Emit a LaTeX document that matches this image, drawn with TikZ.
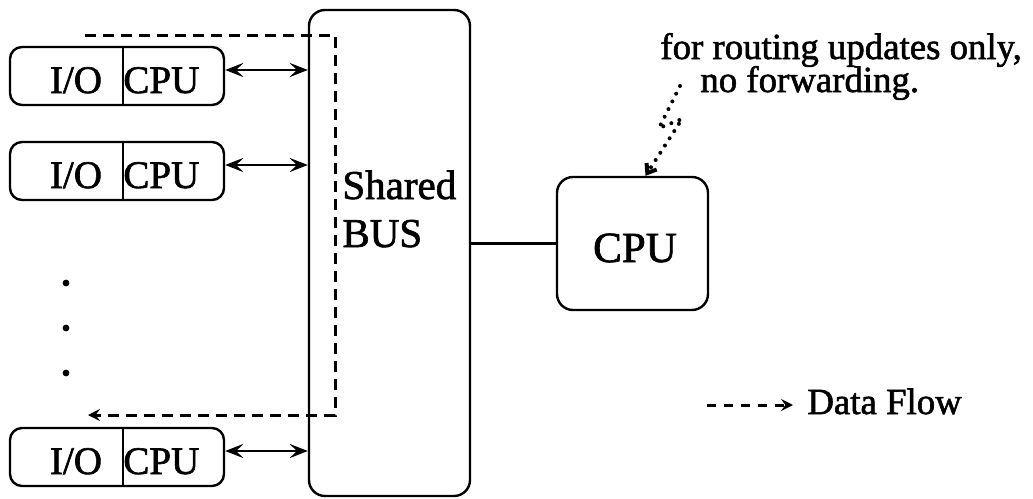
\documentclass[tikz,border=0pt]{standalone}
\usepackage{fontspec}
\setmainfont{Liberation Serif}
\newfontfamily\inkfont{Liberation Serif}[FakeBold=1.6]
\usetikzlibrary{arrows.meta,calc}

\tikzset{
  boxline/.style={line width=1.2pt},
  iobox/.style={boxline, draw, rounded corners=6pt, minimum width=107pt, minimum height=29pt, inner sep=0pt},
  busbox/.style={boxline, draw, rounded corners=8pt, minimum width=80.5pt, minimum height=243pt, inner sep=0pt},
  cpubox/.style={boxline, draw, rounded corners=8pt, minimum width=75.5pt, minimum height=66.5pt, inner sep=0pt},
  bigtext/.style={font=\inkfont\fontsize{19.5}{24}\selectfont, inner sep=0pt},
  bustext/.style={font=\inkfont\fontsize{20.5}{24}\selectfont, inner sep=0pt},
  cputext/.style={font=\inkfont\fontsize{21.5}{24}\selectfont, inner sep=0pt},
  notetext/.style={font=\inkfont\fontsize{18.4}{22}\selectfont, inner sep=0pt},
  link/.style={line width=1.3pt, {Stealth[length=9pt,width=7pt,inset=3.5pt]}-{Stealth[length=9pt,width=7pt,inset=3.5pt]}},
  flow/.style={line width=1.5pt, dash pattern=on 5.5pt off 3.5pt, -{Stealth[length=6pt,width=6pt,inset=2.2pt]}},
  hint/.style={line width=2pt, line cap=round, dash pattern=on 0pt off 4.3pt, -{Straight Barb[length=4pt,width=6pt]}}
}

\begin{document}
\begin{tikzpicture}[x=0.5pt,y=-0.5pt]
  \useasboundingbox (0,0) rectangle (1033,498);

  % shared bus and the routing processor
  \node[busbox] (bus) at (389.5,253) {};
  \node[cpubox] (cpu) at (632.5,243.5) {};
  \node[cputext, anchor=base] (cpulabel) at (635,262) {CPU};
  \node[bustext, anchor=base west] (shared) at (342,199) {Shared};
  \node[bustext, anchor=base west] (buslabel) at (342,247) {BUS};

  % line cards: I/O part and local CPU part
  \foreach \name/\cy in {io1/76, io2/171, io4/457} {
    \node[iobox] (\name) at (117,\cy) {};
    \draw[boxline] (\name.north -| 123,0) -- (\name.south -| 123,0);
    \node[bigtext, anchor=base] (\name-io) at (76,\cy+17) {I/O};
    \node[bigtext, anchor=base west] (\name-cpu) at (123,\cy+17) {CPU};
    \draw[link] ([yshift=3pt]\name.east) -- ([yshift=3pt]\name.east -| bus.west);
  }

  % more line cards
  \foreach \dy in {283,328,373} \fill (66,\dy) circle (1.7pt);

  % bus to routing processor
  \draw[boxline] (cpu.west -| bus.east) -- (cpu.west);

  % data path through the bus
  \coordinate (dfstart) at (85,35);
  \coordinate (dfturn1) at (335,35);
  \coordinate (dfturn2) at (335,415);
  \coordinate (dfend) at (88,415);
  \draw[flow] (dfstart) -- (dfturn1) -- (dfturn2) -- (dfend);

  % note on the routing processor
  \node[notetext, anchor=base west] (note1) at (660,59) {for routing updates only,};
  \node[notetext, anchor=base west] (note2) at (700,92) {no forwarding.};
  \coordinate (hintstart) at (680,86);
  \draw[hint] (hintstart) -- (659,128) -- (682,119) -- ([xshift=6.5pt]cpu.north);

  % legend
  \node[notetext, anchor=base west] (legend) at (807,414) {Data Flow};
  \coordinate (legstart) at (707,405);
  \draw[flow, dash pattern=on 4.5pt off 4pt] (legstart) -- (legstart -| 793,0);
\end{tikzpicture}
\end{document}
